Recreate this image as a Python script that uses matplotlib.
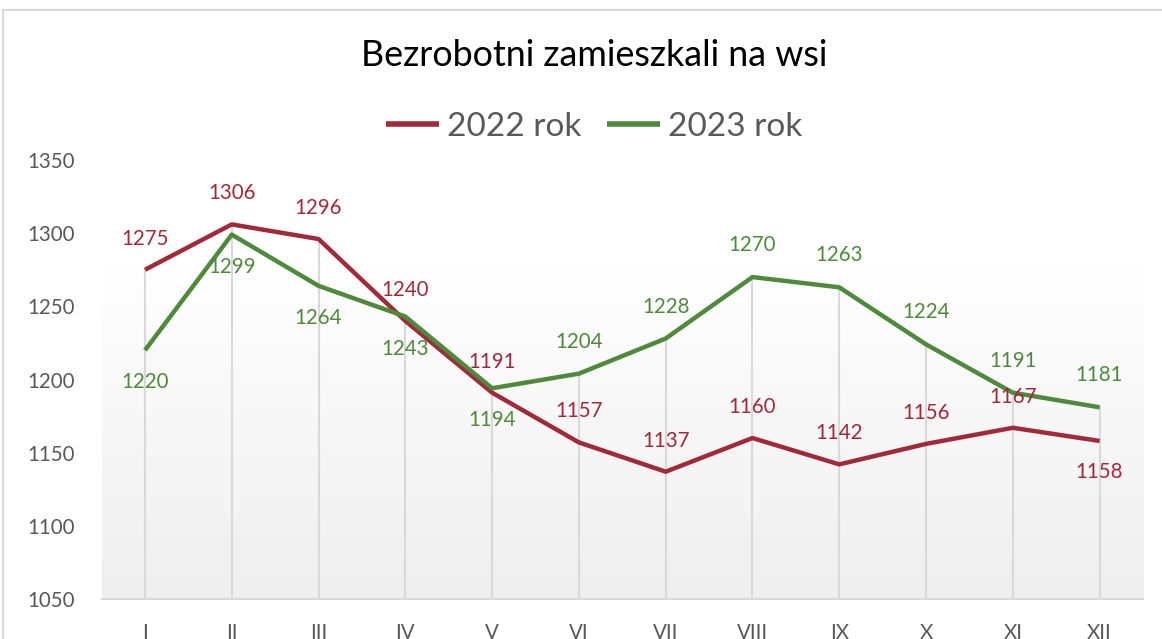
import matplotlib
matplotlib.use("Agg")
import matplotlib.pyplot as plt
import numpy as np
from matplotlib.patches import Rectangle
from matplotlib.colors import LinearSegmentedColormap

months = ["I", "II", "III", "IV", "V", "VI", "VII", "VIII", "IX", "X", "XI", "XII"]
y2022 = [1275, 1306, 1296, 1240, 1191, 1157, 1137, 1160, 1142, 1156, 1167, 1158]
y2023 = [1220, 1299, 1264, 1243, 1194, 1204, 1228, 1270, 1263, 1224, 1191, 1181]
# label placement: +1 above, -1 below
pos2022 = [1, 1, 1, 1, 1, 1, 1, 1, 1, 1, 1, -1]
pos2023 = [-1, -1, -1, -1, -1, 1, 1, 1, 1, 1, 1, 1]

title = "Bezrobotni zamieszkali na wsi"
series_names = ["2022 rok", "2023 rok"]
c2022 = "#a12a3a"
c2023 = "#4f8a3c"

plt.rcParams['font.family'] = ['Lato', 'DejaVu Sans']

W, H = 1162, 639
fig = plt.figure(figsize=(W / 100, H / 100), dpi=100)
fig.patch.set_facecolor("white")

# figure border
fig.patches.append(Rectangle((3 / W, -0.1), 1.2, 1 - 10 / H + 0.1, transform=fig.transFigure,
                             fill=False, edgecolor="#d9d9d9", linewidth=1.5))

left, right = 101.6 / W, 1143 / W
bottom, top = 1 - 599 / H, 1 - 160 / H
ax = fig.add_axes([left, bottom, right - left, top - bottom])
ax.set_xlim(-0.5, len(months) - 0.5)
ax.set_ylim(1050, 1350)

# gradient background
grad = np.linspace(0, 1, 256).reshape(-1, 1)
cmap = LinearSegmentedColormap.from_list("g", ["#ffffff", "#efefef"])
ax.imshow(grad, aspect="auto", cmap=cmap, extent=(-0.5, len(months) - 0.5, 1050, 1280),
          origin="upper", zorder=0)

x = np.arange(len(months))
# drop lines
for xi, a, b in zip(x, y2022, y2023):
    ax.plot([xi, xi], [1050, max(a, b)], color="#d9d9d9", lw=1.5, zorder=1)

ax.plot(x, y2022, color=c2022, lw=3.2, label=series_names[0], zorder=3, solid_capstyle="butt")
ax.plot(x, y2023, color=c2023, lw=3.2, label=series_names[1], zorder=3, solid_capstyle="butt")

for xi, v, p in zip(x, y2022, pos2022):
    ax.annotate(str(v), (xi, v), xytext=(0, 31 * p), textcoords="offset pixels",
                ha="center", va="center", color=c2022, fontsize=14.8, zorder=4)
for xi, v, p in zip(x, y2023, pos2023):
    ax.annotate(str(v), (xi, v), xytext=(0, 32 * p), textcoords="offset pixels",
                ha="center", va="center", color=c2023, fontsize=14.8, zorder=4)

for s in ["top", "right", "left"]:
    ax.spines[s].set_visible(False)
ax.spines["bottom"].set_color("#d9d9d9")
ax.spines["bottom"].set_linewidth(1.5)
ax.set_yticks([1050, 1100, 1150, 1200, 1250, 1300, 1350])
ax.set_xticks(x)
ax.set_xticklabels(months)
ax.tick_params(axis="both", length=0, labelcolor="#595959", labelsize=14.8)
ax.tick_params(axis="y", pad=19)
ax.tick_params(axis="x", pad=17)
ax.set_facecolor("white")

fig.text(594 / W, 1 - 55 / H, title, ha="center", va="center", fontsize=25.8, color="black")
leg = fig.legend(loc="center", bbox_to_anchor=(594 / W, 1 - 127 / H), ncol=2, frameon=False,
                 fontsize=24, handlelength=1.6, handletextpad=0.25, columnspacing=0.75,
                 labelcolor="#595959")
for line in leg.get_lines():
    line.set_linewidth(4)

fig.savefig("out.png", dpi=100)
